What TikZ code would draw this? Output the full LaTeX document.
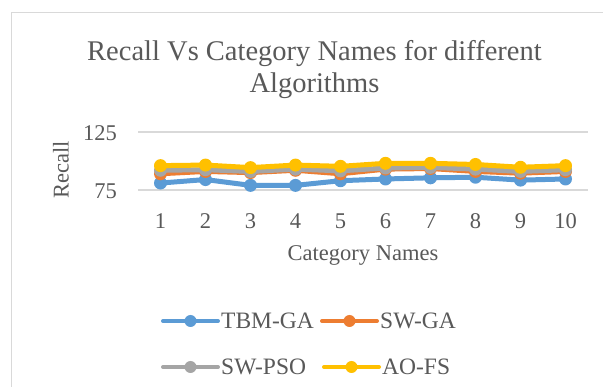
\documentclass[tikz,border=0pt]{standalone}
\usepackage{fontspec}
\setmainfont{Liberation Serif}
\definecolor{cblue}{HTML}{5B9BD5}
\definecolor{corange}{HTML}{ED7D31}
\definecolor{cgray}{HTML}{A5A5A5}
\definecolor{cyellow}{HTML}{FFC000}
\definecolor{ctext}{HTML}{595959}
\definecolor{cgrid}{HTML}{D9D9D9}
\tikzset{
  series/.style={line width=5pt, line join=round, line cap=round},
  mk/.style={circle, inner sep=0pt, minimum size=13pt},
  lgline/.style={line width=4pt, line cap=round},
  lgmk/.style={circle, inner sep=0pt, minimum size=12pt},
  lbl/.style={text=ctext, font=\fontsize{22.5}{26}\selectfont, inner sep=0pt},
  lgtxt/.style={text=ctext, font=\fontsize{23.5}{26}\selectfont, inner sep=0pt, anchor=west},
}
\begin{document}
\begin{tikzpicture}[x=1pt,y=-1pt]
\useasboundingbox (0,0) rectangle (603,387);
\fill[white] (0,0) rectangle (603,387);
% frame
\draw[cgrid, line width=1pt] (11,387) -- (11,13) -- (603,13);
% title
\node[text=ctext, font=\fontsize{28.5}{32}\selectfont, align=center, inner sep=0pt] (title) at (314.5,70) {Recall Vs Category Names for different\\Algorithms};
% gridlines
\coordinate (g1l) at (138,132); \coordinate (g1r) at (588,132);
\coordinate (g0l) at (138,190); \coordinate (g0r) at (588,190);
\draw[cgrid, line width=1.3pt] (g1l) -- (g1r);
\draw[cgrid, line width=1.3pt] (g0l) -- (g0r);
% axis labels
\node[lbl, anchor=east] (y125) at (117,133) {125};
\node[lbl, anchor=east] (y75) at (117,191) {75};
\node[lbl, rotate=90] (ylab) at (61,170) {Recall};
\node[lbl] (xlab) at (363,255) {Category Names};
\foreach \i in {1,...,10} {
  \node[lbl] (t\i) at ({160.5+45*(\i-1)},221) {\i};
}
% data: y = 190 - (v-75)*1.16
\foreach \col/\vals/\nm in {
  cblue/{81,84,79,79,83,84.5,85.5,86,83.5,84.5}/b,
  corange/{89,91,90,92,89,93,93.5,91,89.5,91}/o,
  cgray/{92,92.5,91,93,91.5,94,94.5,93,91,92.5}/g,
  cyellow/{96,96.5,94.3,96.5,95.4,98,98,97,94.6,96}/y} {
  \foreach \v [count=\i] in \vals {
    \coordinate (\nm\i) at ({160.5+45*(\i-1)},{190-(\v-75)*1.16});
  }
  \draw[series, \col] (\nm1) -- (\nm2) -- (\nm3) -- (\nm4) -- (\nm5) -- (\nm6) -- (\nm7) -- (\nm8) -- (\nm9) -- (\nm10);
  \foreach \i in {1,...,10} {
    \node[mk, fill=\col] (\nm m\i) at (\nm\i) {};
  }
}
% legend
\foreach \col/\xa/\ya/\txt/\nm in {
  cblue/163/321/TBM-GA/lb,
  corange/322/321/SW-GA/lo,
  cgray/163/367/SW-PSO/lg,
  cyellow/324/367/AO-FS/ly} {
  \coordinate (\nm a) at (\xa,\ya);
  \coordinate (\nm b) at (\xa+55,\ya);
  \draw[lgline, \col] (\nm a) -- (\nm b);
  \node[lgmk, fill=\col] (\nm m) at (\xa+27.5,\ya) {};
  \node[lgtxt] (\nm t) at (\xa+58,\ya) {\txt};
}
\end{tikzpicture}
\end{document}
